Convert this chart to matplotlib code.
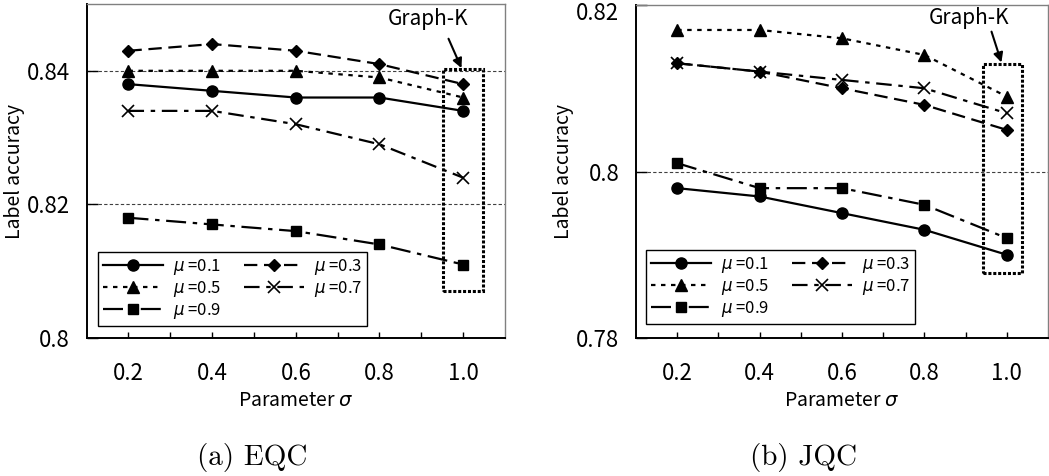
import numpy as np
import matplotlib
matplotlib.use('Agg')
import matplotlib.pyplot as plt
from matplotlib.patches import Rectangle
from matplotlib.transforms import ScaledTranslation

plt.rcParams['font.family'] = ['Noto Sans CJK JP', 'DejaVu Sans']
plt.rcParams['mathtext.fontset'] = 'dejavusans'

### Data
sigma = [0.2, 0.4, 0.6, 0.8, 1.0]
mu_labels = ['0.1', '0.3', '0.5', '0.7', '0.9']

# (a) EQC
eqc_01 = [0.838, 0.837, 0.836, 0.836, 0.834]
eqc_03 = [0.843, 0.844, 0.843, 0.841, 0.838]
eqc_05 = [0.840, 0.840, 0.840, 0.839, 0.836]
eqc_07 = [0.834, 0.834, 0.832, 0.829, 0.824]
eqc_09 = [0.818, 0.817, 0.816, 0.814, 0.811]

# (b) JQC
jqc_01 = [0.798, 0.797, 0.795, 0.793, 0.790]
jqc_03 = [0.813, 0.812, 0.810, 0.808, 0.805]
jqc_05 = [0.817, 0.817, 0.816, 0.814, 0.809]
jqc_07 = [0.813, 0.812, 0.811, 0.810, 0.807]
jqc_09 = [0.801, 0.798, 0.798, 0.796, 0.792]

### Line styles per mu
styles = [
    dict(ls='-', marker='o', ms=8),
    dict(ls=(0, (6, 3)), marker='D', ms=6.5),
    dict(ls=(0, (2, 2.5)), marker='^', ms=8.5),
    dict(ls=(0, (7, 3, 2, 3)), marker='x', ms=9, mew=1.2),
    dict(ls=(0, (9, 3, 2, 3)), marker='s', ms=7.5),
]

### Figure
fig = plt.figure(figsize=(10.49, 4.76), dpi=100)
ax1 = fig.add_axes([0.0826, 0.2899, 0.3988, 0.7017])
ax2 = fig.add_axes([0.6063, 0.2899, 0.3927, 0.6996])


def draw(ax, series, ylim, yticks, ylabels, grid_y, legend_pos, box, text_xy, arrow_from, arrow_to):
    lines = []
    for vals, lab, st in zip(series, mu_labels, styles):
        ln, = ax.plot(sigma, vals, color='black', lw=1.6, mfc='black', mec='black',
                      label=r'$\mu$ =' + lab, **st)
        lines.append(ln)
    ax.set_xlim(0.1, 1.1)
    ax.set_ylim(*ylim)
    ax.set_xticks(sigma)
    ax.set_xticklabels(['0.2', '0.4', '0.6', '0.8', '1.0'])
    ax.set_xticks([0.3, 0.5, 0.7, 0.9], minor=True)
    ax.set_yticks(yticks)
    ax.set_yticklabels(ylabels)
    ax.tick_params(axis='x', which='both', direction='in', length=4, width=1,
                   pad=17, labelsize=16)
    ax.tick_params(axis='y', direction='in', length=8, width=1, pad=12, labelsize=16)
    for y in grid_y:
        ax.axhline(y, color='0.25', lw=0.8, ls=(0, (3, 2)), zorder=0)
    ax.spines['left'].set_linewidth(1.4)
    ax.spines['bottom'].set_linewidth(1.4)
    for s in ['top', 'right']:
        ax.spines[s].set_color('0.5')
        ax.spines[s].set_linewidth(1.0)
    ax.set_xlabel(r'Parameter $\sigma$', fontsize=14, labelpad=4)
    ax.set_ylabel('Label accuracy', fontsize=14)
    ## row-major order like the original legend
    order = [0, 2, 4, 1, 3]
    leg = ax.legend([lines[i] for i in order], [lines[i].get_label() for i in order],
                    ncol=2, loc='lower left', bbox_to_anchor=legend_pos,
                    borderaxespad=0, fontsize=12, handlelength=3.6,
                    labelspacing=0.12, columnspacing=1.4, handletextpad=0.6,
                    borderpad=0.3, fancybox=False, framealpha=1, edgecolor='black')
    leg.get_frame().set_linewidth(1.0)
    # Graph-K box
    ax.add_patch(Rectangle((box[0], box[1]), box[2], box[3], fill=False,
                           ec='black', lw=2.2, ls=(0, (1, 0.6)), zorder=5))
    ax.text(text_xy[0], text_xy[1], 'Graph-K', fontsize=15, ha='center', va='center')
    ax.annotate('', xy=arrow_to, xytext=arrow_from,
                arrowprops=dict(arrowstyle='-|>', color='black', lw=1.5,
                                mutation_scale=14, shrinkA=0, shrinkB=0))


draw(ax1, [eqc_01, eqc_03, eqc_05, eqc_07, eqc_09], (0.8, 0.85), [0.8, 0.82, 0.84],
     ['0.8', '0.82', '0.84'], [0.82, 0.84], (0.027, 0.036), (0.951, 0.807, 0.096, 0.0333),
     (0.917, 0.8478), (0.965, 0.8448), (0.996, 0.8404))
draw(ax2, [jqc_01, jqc_03, jqc_05, jqc_07, jqc_09], (0.78, 0.82), [0.78, 0.80, 0.82],
     ['0.78', '0.8', '0.82'], [0.80], (0.024, 0.042), (0.943, 0.7878, 0.095, 0.0251),
     (0.909, 0.8184), (0.963, 0.8168), (0.987, 0.8131))

## keep the top tick label of (b) inside the picture
top_lab = ax2.get_yticklabels()[-1]
top_lab.set_transform(top_lab.get_transform() + ScaledTranslation(0, -4 / 72, fig.dpi_scale_trans))

ax1.yaxis.set_label_coords(-0.147, 0.5)
ax2.yaxis.set_label_coords(-0.150, 0.5)

fig.text(252 / 1049, 0.038, '(a) EQC', family='cmr10', fontsize=21, ha='center', va='center')
fig.text(803 / 1049, 0.038, '(b) JQC', family='cmr10', fontsize=21, ha='center', va='center')

fig.savefig('out.png', dpi=100)
